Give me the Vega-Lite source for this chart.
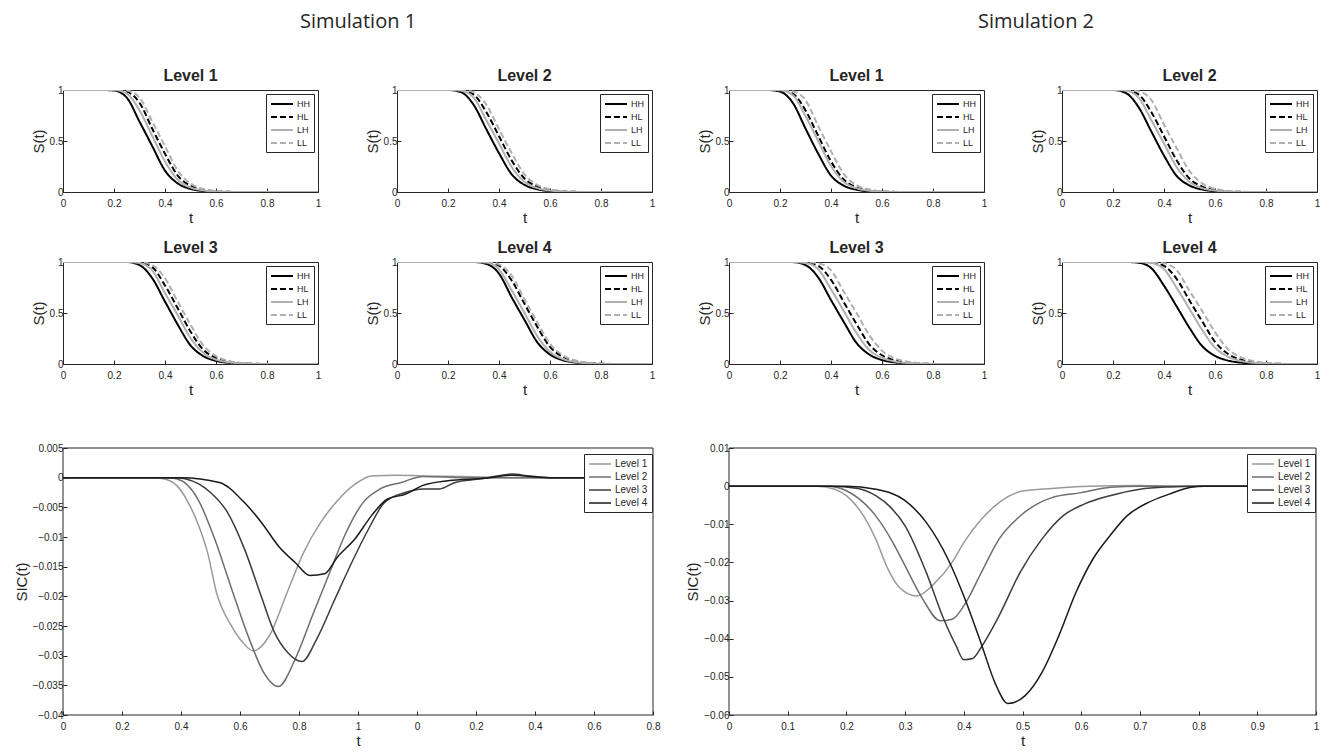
{
"$schema":"https://vega.github.io/schema/vega-lite/v6.json",
"background":"white",
"padding":{"left":14,"top":11,"right":2,"bottom":2},
"config":{
 "font":"Liberation Sans",
 "view":{"stroke":"#262626","strokeWidth":1},
 "axis":{"grid":false,"domain":false,"tickSize":-4,"tickColor":"#262626","labelFont":"Liberation Sans","labelFontSize":10,"labelColor":"#262626","labelPadding":4,"labelOverlap":false,"labelFlush":false,"titleFont":"Liberation Sans","titleFontWeight":"normal","titleFontSize":15,"titleColor":"#262626","titlePadding":3},
 "axisX":{"labelPadding":10,"titlePadding":2},
 "title":{"font":"Liberation Sans","fontSize":16,"fontWeight":"bold","color":"#262626","offset":1},
 "legend":{"orient":"top-right","offset":4,"padding":4,"strokeColor":"#262626","fillColor":"white","labelFont":"Liberation Sans","labelFontSize":9,"labelColor":"#262626","rowPadding":2,"symbolType":"M-1,0H3.4","symbolSize":100,"labelOffset":15,"cornerRadius":0}
},
"datasets":{
"surv":[
{"s":1,"l":1,"t":0,"HH":1,"HL":1,"LH":1,"LL":1},
{"s":1,"l":1,"t":0.15,"HH":1,"HL":1,"LH":1,"LL":1},
{"s":1,"l":1,"t":0.2,"HH":0.995,"HL":1,"LH":1,"LL":1},
{"s":1,"l":1,"t":0.25,"HH":0.925,"HL":0.984,"LH":0.965,"LL":0.995},
{"s":1,"l":1,"t":0.3,"HH":0.69,"HL":0.875,"LH":0.8,"LL":0.925},
{"s":1,"l":1,"t":0.35,"HH":0.45,"HL":0.62,"LH":0.55,"LL":0.69},
{"s":1,"l":1,"t":0.4,"HH":0.21,"HL":0.375,"LH":0.3,"LL":0.45},
{"s":1,"l":1,"t":0.45,"HH":0.084,"HL":0.161,"LH":0.12,"LL":0.21},
{"s":1,"l":1,"t":0.5,"HH":0.03,"HL":0.062,"LH":0.045,"LL":0.084},
{"s":1,"l":1,"t":0.55,"HH":0.0095,"HL":0.0225,"LH":0.016,"LL":0.03},
{"s":1,"l":1,"t":0.6,"HH":0.002,"HL":0.0063,"LH":0.004,"LL":0.0095},
{"s":1,"l":1,"t":0.65,"HH":0,"HL":0.0015,"LH":0.001,"LL":0.0024},
{"s":1,"l":1,"t":0.7,"HH":0,"HL":0,"LH":0,"LL":0},
{"s":1,"l":1,"t":1,"HH":0,"HL":0,"LH":0,"LL":0},
{"s":1,"l":2,"t":0,"HH":1,"HL":1,"LH":1,"LL":1},
{"s":1,"l":2,"t":0.2,"HH":1,"HL":1,"LH":1,"LL":1},
{"s":1,"l":2,"t":0.25,"HH":0.98,"HL":0.998,"LH":0.994,"LL":1},
{"s":1,"l":2,"t":0.3,"HH":0.857,"HL":0.957,"LH":0.926,"LL":0.979},
{"s":1,"l":2,"t":0.35,"HH":0.617,"HL":0.784,"LH":0.706,"LL":0.857},
{"s":1,"l":2,"t":0.4,"HH":0.381,"HL":0.547,"LH":0.476,"LL":0.617},
{"s":1,"l":2,"t":0.45,"HH":0.173,"HL":0.309,"LH":0.244,"LL":0.381},
{"s":1,"l":2,"t":0.5,"HH":0.0695,"HL":0.132,"LH":0.1,"LL":0.173},
{"s":1,"l":2,"t":0.55,"HH":0.0267,"HL":0.053,"LH":0.039,"LL":0.0695},
{"s":1,"l":2,"t":0.6,"HH":0.0085,"HL":0.0196,"LH":0.014,"LL":0.0267},
{"s":1,"l":2,"t":0.65,"HH":0.0024,"HL":0.006,"LH":0.004,"LL":0.0085},
{"s":1,"l":2,"t":0.7,"HH":0,"HL":0.0014,"LH":0.0005,"LL":0.0024},
{"s":1,"l":2,"t":0.75,"HH":0,"HL":0,"LH":0,"LL":0},
{"s":1,"l":2,"t":1,"HH":0,"HL":0,"LH":0,"LL":0},
{"s":1,"l":3,"t":0,"HH":1,"HL":1,"LH":1,"LL":1},
{"s":1,"l":3,"t":0.25,"HH":1,"HL":1,"LH":1,"LL":1},
{"s":1,"l":3,"t":0.3,"HH":0.97,"HL":0.996,"LH":0.989,"LL":1},
{"s":1,"l":3,"t":0.35,"HH":0.841,"HL":0.95,"LH":0.916,"LL":0.97},
{"s":1,"l":3,"t":0.4,"HH":0.612,"HL":0.77,"LH":0.694,"LL":0.841},
{"s":1,"l":3,"t":0.45,"HH":0.386,"HL":0.546,"LH":0.478,"LL":0.612},
{"s":1,"l":3,"t":0.5,"HH":0.183,"HL":0.318,"LH":0.255,"LL":0.386},
{"s":1,"l":3,"t":0.55,"HH":0.078,"HL":0.141,"LH":0.11,"LL":0.183},
{"s":1,"l":3,"t":0.6,"HH":0.031,"HL":0.06,"LH":0.044,"LL":0.078},
{"s":1,"l":3,"t":0.65,"HH":0.011,"HL":0.024,"LH":0.017,"LL":0.031},
{"s":1,"l":3,"t":0.7,"HH":0.003,"HL":0.0075,"LH":0.005,"LL":0.011},
{"s":1,"l":3,"t":0.75,"HH":0.0003,"HL":0.002,"LH":0.001,"LL":0.003},
{"s":1,"l":3,"t":0.8,"HH":0,"HL":0,"LH":0,"LL":0.0003},
{"s":1,"l":3,"t":0.85,"HH":0,"HL":0,"LH":0,"LL":0},
{"s":1,"l":3,"t":1,"HH":0,"HL":0,"LH":0,"LL":0},
{"s":1,"l":4,"t":0,"HH":1,"HL":1,"LH":1,"LL":1},
{"s":1,"l":4,"t":0.3,"HH":1,"HL":1,"LH":1,"LL":1},
{"s":1,"l":4,"t":0.35,"HH":0.982,"HL":0.999,"LH":0.994,"LL":1},
{"s":1,"l":4,"t":0.4,"HH":0.886,"HL":0.964,"LH":0.927,"LL":0.977},
{"s":1,"l":4,"t":0.45,"HH":0.653,"HL":0.818,"LH":0.72,"LL":0.864},
{"s":1,"l":4,"t":0.5,"HH":0.432,"HL":0.59,"LH":0.5,"LL":0.633},
{"s":1,"l":4,"t":0.55,"HH":0.214,"HL":0.365,"LH":0.275,"LL":0.41},
{"s":1,"l":4,"t":0.6,"HH":0.093,"HL":0.168,"LH":0.12,"LL":0.198},
{"s":1,"l":4,"t":0.65,"HH":0.0375,"HL":0.071,"LH":0.049,"LL":0.086},
{"s":1,"l":4,"t":0.7,"HH":0.014,"HL":0.028,"LH":0.019,"LL":0.034},
{"s":1,"l":4,"t":0.75,"HH":0.004,"HL":0.0095,"LH":0.006,"LL":0.012},
{"s":1,"l":4,"t":0.8,"HH":0.0007,"HL":0.0025,"LH":0.0015,"LL":0.0035},
{"s":1,"l":4,"t":0.85,"HH":0,"HL":0,"LH":0,"LL":0.0005},
{"s":1,"l":4,"t":0.9,"HH":0,"HL":0,"LH":0,"LL":0},
{"s":1,"l":4,"t":1,"HH":0,"HL":0,"LH":0,"LL":0},
{"s":2,"l":1,"t":0,"HH":1,"HL":1,"LH":1,"LL":1},
{"s":2,"l":1,"t":0.15,"HH":1,"HL":1,"LH":1,"LL":1},
{"s":2,"l":1,"t":0.2,"HH":0.984,"HL":1,"LH":0.998,"LL":1},
{"s":2,"l":1,"t":0.25,"HH":0.875,"HL":0.965,"LH":0.95,"LL":0.9875},
{"s":2,"l":1,"t":0.3,"HH":0.6225,"HL":0.8,"LH":0.745,"LL":0.9},
{"s":2,"l":1,"t":0.35,"HH":0.375,"HL":0.55,"LH":0.5,"LL":0.645},
{"s":2,"l":1,"t":0.4,"HH":0.161,"HL":0.3,"LH":0.255,"LL":0.4},
{"s":2,"l":1,"t":0.45,"HH":0.062,"HL":0.1225,"LH":0.1,"LL":0.1775},
{"s":2,"l":1,"t":0.5,"HH":0.0225,"HL":0.045,"LH":0.0375,"LL":0.068},
{"s":2,"l":1,"t":0.55,"HH":0.0063,"HL":0.016,"LH":0.012,"LL":0.025},
{"s":2,"l":1,"t":0.6,"HH":0.0015,"HL":0.004,"LH":0.003,"LL":0.007},
{"s":2,"l":1,"t":0.65,"HH":0,"HL":0.001,"LH":0,"LL":0.002},
{"s":2,"l":1,"t":0.7,"HH":0,"HL":0,"LH":0,"LL":0},
{"s":2,"l":1,"t":1,"HH":0,"HL":0,"LH":0,"LL":0},
{"s":2,"l":2,"t":0,"HH":1,"HL":1,"LH":1,"LL":1},
{"s":2,"l":2,"t":0.2,"HH":1,"HL":1,"LH":1,"LL":1},
{"s":2,"l":2,"t":0.25,"HH":0.971,"HL":0.998,"LH":0.994,"LL":1},
{"s":2,"l":2,"t":0.3,"HH":0.833,"HL":0.957,"LH":0.926,"LL":0.987},
{"s":2,"l":2,"t":0.35,"HH":0.595,"HL":0.784,"LH":0.706,"LL":0.903},
{"s":2,"l":2,"t":0.4,"HH":0.357,"HL":0.547,"LH":0.476,"LL":0.66},
{"s":2,"l":2,"t":0.45,"HH":0.157,"HL":0.309,"LH":0.244,"LL":0.429},
{"s":2,"l":2,"t":0.5,"HH":0.064,"HL":0.132,"LH":0.1,"LL":0.205},
{"s":2,"l":2,"t":0.55,"HH":0.0243,"HL":0.053,"LH":0.039,"LL":0.085},
{"s":2,"l":2,"t":0.6,"HH":0.0073,"HL":0.0196,"LH":0.014,"LL":0.032},
{"s":2,"l":2,"t":0.65,"HH":0.002,"HL":0.006,"LH":0.004,"LL":0.011},
{"s":2,"l":2,"t":0.7,"HH":0,"HL":0.0014,"LH":0.0005,"LL":0.003},
{"s":2,"l":2,"t":0.75,"HH":0,"HL":0,"LH":0,"LL":0},
{"s":2,"l":2,"t":1,"HH":0,"HL":0,"LH":0,"LL":0},
{"s":2,"l":3,"t":0,"HH":1,"HL":1,"LH":1,"LL":1},
{"s":2,"l":3,"t":0.2,"HH":1,"HL":1,"LH":1,"LL":1},
{"s":2,"l":3,"t":0.25,"HH":0.999,"HL":1,"LH":1,"LL":1},
{"s":2,"l":3,"t":0.3,"HH":0.97,"HL":0.998,"LH":0.99,"LL":1},
{"s":2,"l":3,"t":0.35,"HH":0.848,"HL":0.963,"LH":0.928,"LL":0.987},
{"s":2,"l":3,"t":0.4,"HH":0.627,"HL":0.826,"LH":0.733,"LL":0.918},
{"s":2,"l":3,"t":0.45,"HH":0.413,"HL":0.608,"LH":0.52,"LL":0.709},
{"s":2,"l":3,"t":0.5,"HH":0.207,"HL":0.392,"LH":0.304,"LL":0.5},
{"s":2,"l":3,"t":0.55,"HH":0.093,"HL":0.193,"LH":0.137,"LL":0.284},
{"s":2,"l":3,"t":0.6,"HH":0.039,"HL":0.086,"LH":0.061,"LL":0.129},
{"s":2,"l":3,"t":0.65,"HH":0.0155,"HL":0.036,"LH":0.025,"LL":0.056},
{"s":2,"l":3,"t":0.7,"HH":0.0055,"HL":0.014,"LH":0.0087,"LL":0.023},
{"s":2,"l":3,"t":0.75,"HH":0.0013,"HL":0.0045,"LH":0.0025,"LL":0.0076},
{"s":2,"l":3,"t":0.8,"HH":0,"HL":0.001,"LH":0,"LL":0.0023},
{"s":2,"l":3,"t":0.85,"HH":0,"HL":0,"LH":0,"LL":0},
{"s":2,"l":3,"t":1,"HH":0,"HL":0,"LH":0,"LL":0},
{"s":2,"l":4,"t":0,"HH":1,"HL":1,"LH":1,"LL":1},
{"s":2,"l":4,"t":0.25,"HH":1,"HL":1,"LH":1,"LL":1},
{"s":2,"l":4,"t":0.3,"HH":0.993,"HL":1,"LH":1,"LL":1},
{"s":2,"l":4,"t":0.35,"HH":0.94,"HL":0.998,"LH":0.99,"LL":1},
{"s":2,"l":4,"t":0.4,"HH":0.768,"HL":0.962,"LH":0.929,"LL":0.987},
{"s":2,"l":4,"t":0.45,"HH":0.563,"HL":0.833,"LH":0.745,"LL":0.919},
{"s":2,"l":4,"t":0.5,"HH":0.354,"HL":0.6225,"LH":0.54,"LL":0.716},
{"s":2,"l":4,"t":0.55,"HH":0.175,"HL":0.417,"LH":0.333,"LL":0.52},
{"s":2,"l":4,"t":0.6,"HH":0.08,"HL":0.218,"LH":0.161,"LL":0.3125},
{"s":2,"l":4,"t":0.65,"HH":0.034,"HL":0.1,"LH":0.073,"LL":0.148},
{"s":2,"l":4,"t":0.7,"HH":0.014,"HL":0.044,"LH":0.031,"LL":0.067},
{"s":2,"l":4,"t":0.75,"HH":0.0045,"HL":0.018,"LH":0.012,"LL":0.029},
{"s":2,"l":4,"t":0.8,"HH":0.0013,"HL":0.0063,"LH":0.0037,"LL":0.011},
{"s":2,"l":4,"t":0.85,"HH":0,"HL":0.002,"LH":0.001,"LL":0.0035},
{"s":2,"l":4,"t":0.9,"HH":0,"HL":0,"LH":0,"LL":0.0008},
{"s":2,"l":4,"t":0.95,"HH":0,"HL":0,"LH":0,"LL":0},
{"s":2,"l":4,"t":1,"HH":0,"HL":0,"LH":0,"LL":0}
],
"sic":[
{"s":1,"lv":"Level 1","t":0,"v":0},{"s":1,"lv":"Level 1","t":0.3,"v":0},{"s":1,"lv":"Level 1","t":0.34,"v":-0.0002},{"s":1,"lv":"Level 1","t":0.385,"v":-0.0013},{"s":1,"lv":"Level 1","t":0.43,"v":-0.0047},{"s":1,"lv":"Level 1","t":0.46,"v":-0.0081},{"s":1,"lv":"Level 1","t":0.49,"v":-0.0126},{"s":1,"lv":"Level 1","t":0.52,"v":-0.0193},{"s":1,"lv":"Level 1","t":0.57,"v":-0.0249},{"s":1,"lv":"Level 1","t":0.61,"v":-0.0278},{"s":1,"lv":"Level 1","t":0.645,"v":-0.0292},{"s":1,"lv":"Level 1","t":0.7,"v":-0.0266},{"s":1,"lv":"Level 1","t":0.76,"v":-0.0193},{"s":1,"lv":"Level 1","t":0.816,"v":-0.0126},{"s":1,"lv":"Level 1","t":0.874,"v":-0.0075},{"s":1,"lv":"Level 1","t":0.93,"v":-0.0039},{"s":1,"lv":"Level 1","t":0.99,"v":-0.0011},{"s":1,"lv":"Level 1","t":1.046,"v":0.0003},{"s":1,"lv":"Level 1","t":1.13,"v":0.0004},{"s":1,"lv":"Level 1","t":1.22,"v":0.0003},{"s":1,"lv":"Level 1","t":1.36,"v":0.0002},{"s":1,"lv":"Level 1","t":1.5,"v":0},{"s":1,"lv":"Level 1","t":2,"v":0},
{"s":1,"lv":"Level 2","t":0,"v":0},{"s":1,"lv":"Level 2","t":0.35,"v":0},{"s":1,"lv":"Level 2","t":0.385,"v":-0.0002},{"s":1,"lv":"Level 2","t":0.457,"v":-0.0036},{"s":1,"lv":"Level 2","t":0.514,"v":-0.0103},{"s":1,"lv":"Level 2","t":0.572,"v":-0.0188},{"s":1,"lv":"Level 2","t":0.63,"v":-0.027},{"s":1,"lv":"Level 2","t":0.68,"v":-0.0328},{"s":1,"lv":"Level 2","t":0.73,"v":-0.0352},{"s":1,"lv":"Level 2","t":0.787,"v":-0.0306},{"s":1,"lv":"Level 2","t":0.845,"v":-0.0233},{"s":1,"lv":"Level 2","t":0.9,"v":-0.0165},{"s":1,"lv":"Level 2","t":0.96,"v":-0.0092},{"s":1,"lv":"Level 2","t":1.017,"v":-0.0042},{"s":1,"lv":"Level 2","t":1.075,"v":-0.0019},{"s":1,"lv":"Level 2","t":1.147,"v":-0.0008},{"s":1,"lv":"Level 2","t":1.22,"v":0.0002},{"s":1,"lv":"Level 2","t":1.36,"v":0},{"s":1,"lv":"Level 2","t":2,"v":0},
{"s":1,"lv":"Level 3","t":0,"v":0},{"s":1,"lv":"Level 3","t":0.38,"v":0},{"s":1,"lv":"Level 3","t":0.414,"v":-0.0002},{"s":1,"lv":"Level 3","t":0.5,"v":-0.0025},{"s":1,"lv":"Level 3","t":0.557,"v":-0.0058},{"s":1,"lv":"Level 3","t":0.615,"v":-0.012},{"s":1,"lv":"Level 3","t":0.672,"v":-0.02},{"s":1,"lv":"Level 3","t":0.716,"v":-0.026},{"s":1,"lv":"Level 3","t":0.76,"v":-0.0294},{"s":1,"lv":"Level 3","t":0.81,"v":-0.031},{"s":1,"lv":"Level 3","t":0.86,"v":-0.0272},{"s":1,"lv":"Level 3","t":0.917,"v":-0.021},{"s":1,"lv":"Level 3","t":0.974,"v":-0.0148},{"s":1,"lv":"Level 3","t":1.03,"v":-0.0092},{"s":1,"lv":"Level 3","t":1.09,"v":-0.0042},{"s":1,"lv":"Level 3","t":1.16,"v":-0.0025},{"s":1,"lv":"Level 3","t":1.22,"v":-0.0019},{"s":1,"lv":"Level 3","t":1.276,"v":-0.0019},{"s":1,"lv":"Level 3","t":1.33,"v":-0.0008},{"s":1,"lv":"Level 3","t":1.43,"v":-0.0001},{"s":1,"lv":"Level 3","t":1.52,"v":0.0006},{"s":1,"lv":"Level 3","t":1.58,"v":0.0003},{"s":1,"lv":"Level 3","t":1.65,"v":0},{"s":1,"lv":"Level 3","t":2,"v":0},
{"s":1,"lv":"Level 4","t":0,"v":0},{"s":1,"lv":"Level 4","t":0.4,"v":0},{"s":1,"lv":"Level 4","t":0.53,"v":-0.0008},{"s":1,"lv":"Level 4","t":0.615,"v":-0.0042},{"s":1,"lv":"Level 4","t":0.672,"v":-0.0075},{"s":1,"lv":"Level 4","t":0.73,"v":-0.0115},{"s":1,"lv":"Level 4","t":0.787,"v":-0.0143},{"s":1,"lv":"Level 4","t":0.837,"v":-0.0165},{"s":1,"lv":"Level 4","t":0.887,"v":-0.0162},{"s":1,"lv":"Level 4","t":0.93,"v":-0.0134},{"s":1,"lv":"Level 4","t":0.99,"v":-0.0103},{"s":1,"lv":"Level 4","t":1.046,"v":-0.0064},{"s":1,"lv":"Level 4","t":1.1,"v":-0.0036},{"s":1,"lv":"Level 4","t":1.16,"v":-0.0028},{"s":1,"lv":"Level 4","t":1.22,"v":-0.0013},{"s":1,"lv":"Level 4","t":1.305,"v":-0.0005},{"s":1,"lv":"Level 4","t":1.43,"v":-0.0001},{"s":1,"lv":"Level 4","t":1.52,"v":0.0004},{"s":1,"lv":"Level 4","t":1.65,"v":0},{"s":1,"lv":"Level 4","t":2,"v":0},
{"s":2,"lv":"Level 1","t":0,"v":0},{"s":2,"lv":"Level 1","t":0.15,"v":0},{"s":2,"lv":"Level 1","t":0.18,"v":-0.0008},{"s":2,"lv":"Level 1","t":0.2,"v":-0.0025},{"s":2,"lv":"Level 1","t":0.23,"v":-0.008},{"s":2,"lv":"Level 1","t":0.25,"v":-0.0139},{"s":2,"lv":"Level 1","t":0.27,"v":-0.0215},{"s":2,"lv":"Level 1","t":0.29,"v":-0.0265},{"s":2,"lv":"Level 1","t":0.32,"v":-0.0288},{"s":2,"lv":"Level 1","t":0.35,"v":-0.0255},{"s":2,"lv":"Level 1","t":0.38,"v":-0.02},{"s":2,"lv":"Level 1","t":0.4,"v":-0.0148},{"s":2,"lv":"Level 1","t":0.43,"v":-0.0087},{"s":2,"lv":"Level 1","t":0.46,"v":-0.0043},{"s":2,"lv":"Level 1","t":0.5,"v":-0.0013},{"s":2,"lv":"Level 1","t":0.55,"v":-0.0006},{"s":2,"lv":"Level 1","t":0.6,"v":-0.0001},{"s":2,"lv":"Level 1","t":0.7,"v":0.0002},{"s":2,"lv":"Level 1","t":0.75,"v":0},{"s":2,"lv":"Level 1","t":1,"v":0},
{"s":2,"lv":"Level 2","t":0,"v":0},{"s":2,"lv":"Level 2","t":0.17,"v":0},{"s":2,"lv":"Level 2","t":0.2,"v":-0.0012},{"s":2,"lv":"Level 2","t":0.25,"v":-0.0078},{"s":2,"lv":"Level 2","t":0.28,"v":-0.015},{"s":2,"lv":"Level 2","t":0.3,"v":-0.0209},{"s":2,"lv":"Level 2","t":0.33,"v":-0.0296},{"s":2,"lv":"Level 2","t":0.36,"v":-0.0353},{"s":2,"lv":"Level 2","t":0.38,"v":-0.0349},{"s":2,"lv":"Level 2","t":0.4,"v":-0.0314},{"s":2,"lv":"Level 2","t":0.43,"v":-0.0226},{"s":2,"lv":"Level 2","t":0.46,"v":-0.0139},{"s":2,"lv":"Level 2","t":0.5,"v":-0.0073},{"s":2,"lv":"Level 2","t":0.55,"v":-0.003},{"s":2,"lv":"Level 2","t":0.6,"v":-0.0017},{"s":2,"lv":"Level 2","t":0.65,"v":-0.0003},{"s":2,"lv":"Level 2","t":0.7,"v":0},{"s":2,"lv":"Level 2","t":1,"v":0},
{"s":2,"lv":"Level 3","t":0,"v":0},{"s":2,"lv":"Level 3","t":0.17,"v":0},{"s":2,"lv":"Level 3","t":0.22,"v":-0.0006},{"s":2,"lv":"Level 3","t":0.25,"v":-0.0025},{"s":2,"lv":"Level 3","t":0.275,"v":-0.0055},{"s":2,"lv":"Level 3","t":0.3,"v":-0.0104},{"s":2,"lv":"Level 3","t":0.336,"v":-0.0226},{"s":2,"lv":"Level 3","t":0.366,"v":-0.0349},{"s":2,"lv":"Level 3","t":0.387,"v":-0.0419},{"s":2,"lv":"Level 3","t":0.4,"v":-0.0455},{"s":2,"lv":"Level 3","t":0.415,"v":-0.0452},{"s":2,"lv":"Level 3","t":0.431,"v":-0.0419},{"s":2,"lv":"Level 3","t":0.46,"v":-0.034},{"s":2,"lv":"Level 3","t":0.496,"v":-0.0226},{"s":2,"lv":"Level 3","t":0.533,"v":-0.0139},{"s":2,"lv":"Level 3","t":0.569,"v":-0.0078},{"s":2,"lv":"Level 3","t":0.605,"v":-0.0047},{"s":2,"lv":"Level 3","t":0.649,"v":-0.0025},{"s":2,"lv":"Level 3","t":0.7,"v":-0.0008},{"s":2,"lv":"Level 3","t":0.75,"v":-0.0002},{"s":2,"lv":"Level 3","t":0.8,"v":0},{"s":2,"lv":"Level 3","t":1,"v":0},
{"s":2,"lv":"Level 4","t":0,"v":0},{"s":2,"lv":"Level 4","t":0.2,"v":0},{"s":2,"lv":"Level 4","t":0.25,"v":-0.0008},{"s":2,"lv":"Level 4","t":0.3,"v":-0.0038},{"s":2,"lv":"Level 4","t":0.336,"v":-0.0095},{"s":2,"lv":"Level 4","t":0.373,"v":-0.0191},{"s":2,"lv":"Level 4","t":0.402,"v":-0.0296},{"s":2,"lv":"Level 4","t":0.431,"v":-0.0419},{"s":2,"lv":"Level 4","t":0.453,"v":-0.0515},{"s":2,"lv":"Level 4","t":0.475,"v":-0.057},{"s":2,"lv":"Level 4","t":0.504,"v":-0.055},{"s":2,"lv":"Level 4","t":0.533,"v":-0.0489},{"s":2,"lv":"Level 4","t":0.562,"v":-0.0392},{"s":2,"lv":"Level 4","t":0.591,"v":-0.0279},{"s":2,"lv":"Level 4","t":0.62,"v":-0.0191},{"s":2,"lv":"Level 4","t":0.649,"v":-0.013},{"s":2,"lv":"Level 4","t":0.678,"v":-0.0078},{"s":2,"lv":"Level 4","t":0.714,"v":-0.0043},{"s":2,"lv":"Level 4","t":0.75,"v":-0.0021},{"s":2,"lv":"Level 4","t":0.787,"v":-0.0003},{"s":2,"lv":"Level 4","t":0.81,"v":0},{"s":2,"lv":"Level 4","t":1,"v":0}
]
},
"spacing":25,
"resolve":{"scale":{"color":"independent","strokeDash":"independent","strokeWidth":"independent"}},
"hconcat":[
{"title":{"text":"Simulation 1","font":"Open Sans","fontSize":20,"fontWeight":"normal","anchor":"middle","offset":36,"dx":21},
 "columns":2,"bounds":"flush","align":"each","spacing":{"row":70,"column":79},
 "resolve":{"scale":{"color":"independent","strokeDash":"independent","strokeWidth":"independent"}},
 "concat":[
   {"title":"Level 1","width":255,"height":102,"data":{"name":"surv"},"transform":[{"filter":"datum.s==1 && datum.l==1"},{"fold":["HH","HL","LH","LL"],"as":["c","y"]}],"mark":{"type":"line","interpolate":"monotone","clip":true},
    "encoding":{"x":{"field":"t","type":"quantitative","scale":{"domain":[0,1],"nice":false},"axis":{"values":[0,0.2,0.4,0.6,0.8,1],"format":"~g","title":"t"}},"y":{"field":"y","type":"quantitative","scale":{"domain":[0,1],"nice":false},"axis":{"values":[0,0.5,1],"format":"~g","title":"S(t)"}},"color":{"field":"c","type":"nominal","title":null,"scale":{"domain":["HH","HL","LH","LL"],"range":["#000000","#000000","#b0b0b0","#b0b0b0"]}},"strokeDash":{"field":"c","type":"nominal","title":null,"scale":{"domain":["HH","HL","LH","LL"],"range":[[1,0],[6,3],[1,0],[6,3]]}},"strokeWidth":{"field":"c","type":"nominal","title":null,"scale":{"domain":["HH","HL","LH","LL"],"range":[2,2,1.2,1.2]}}}},
   {"title":"Level 2","width":255,"height":102,"data":{"name":"surv"},"transform":[{"filter":"datum.s==1 && datum.l==2"},{"fold":["HH","HL","LH","LL"],"as":["c","y"]}],"mark":{"type":"line","interpolate":"monotone","clip":true},
    "encoding":{"x":{"field":"t","type":"quantitative","scale":{"domain":[0,1],"nice":false},"axis":{"values":[0,0.2,0.4,0.6,0.8,1],"format":"~g","title":"t"}},"y":{"field":"y","type":"quantitative","scale":{"domain":[0,1],"nice":false},"axis":{"values":[0,0.5,1],"format":"~g","title":"S(t)"}},"color":{"field":"c","type":"nominal","title":null,"scale":{"domain":["HH","HL","LH","LL"],"range":["#000000","#000000","#b0b0b0","#b0b0b0"]}},"strokeDash":{"field":"c","type":"nominal","title":null,"scale":{"domain":["HH","HL","LH","LL"],"range":[[1,0],[6,3],[1,0],[6,3]]}},"strokeWidth":{"field":"c","type":"nominal","title":null,"scale":{"domain":["HH","HL","LH","LL"],"range":[2,2,1.2,1.2]}}}},
   {"title":"Level 3","width":255,"height":102,"data":{"name":"surv"},"transform":[{"filter":"datum.s==1 && datum.l==3"},{"fold":["HH","HL","LH","LL"],"as":["c","y"]}],"mark":{"type":"line","interpolate":"monotone","clip":true},
    "encoding":{"x":{"field":"t","type":"quantitative","scale":{"domain":[0,1],"nice":false},"axis":{"values":[0,0.2,0.4,0.6,0.8,1],"format":"~g","title":"t"}},"y":{"field":"y","type":"quantitative","scale":{"domain":[0,1],"nice":false},"axis":{"values":[0,0.5,1],"format":"~g","title":"S(t)"}},"color":{"field":"c","type":"nominal","title":null,"scale":{"domain":["HH","HL","LH","LL"],"range":["#000000","#000000","#b0b0b0","#b0b0b0"]}},"strokeDash":{"field":"c","type":"nominal","title":null,"scale":{"domain":["HH","HL","LH","LL"],"range":[[1,0],[6,3],[1,0],[6,3]]}},"strokeWidth":{"field":"c","type":"nominal","title":null,"scale":{"domain":["HH","HL","LH","LL"],"range":[2,2,1.2,1.2]}}}},
   {"title":"Level 4","width":255,"height":102,"data":{"name":"surv"},"transform":[{"filter":"datum.s==1 && datum.l==4"},{"fold":["HH","HL","LH","LL"],"as":["c","y"]}],"mark":{"type":"line","interpolate":"monotone","clip":true},
    "encoding":{"x":{"field":"t","type":"quantitative","scale":{"domain":[0,1],"nice":false},"axis":{"values":[0,0.2,0.4,0.6,0.8,1],"format":"~g","title":"t"}},"y":{"field":"y","type":"quantitative","scale":{"domain":[0,1],"nice":false},"axis":{"values":[0,0.5,1],"format":"~g","title":"S(t)"}},"color":{"field":"c","type":"nominal","title":null,"scale":{"domain":["HH","HL","LH","LL"],"range":["#000000","#000000","#b0b0b0","#b0b0b0"]}},"strokeDash":{"field":"c","type":"nominal","title":null,"scale":{"domain":["HH","HL","LH","LL"],"range":[[1,0],[6,3],[1,0],[6,3]]}},"strokeWidth":{"field":"c","type":"nominal","title":null,"scale":{"domain":["HH","HL","LH","LL"],"range":[2,2,1.2,1.2]}}}},
   {"width":255,"height":281,"view":{"stroke":null},
    "layer":[
     {"data":{"name":"sic"},"transform":[{"filter":"datum.s==1"}],"mark":{"type":"line","interpolate":"monotone","strokeWidth":1.5,"clip":false},
      "encoding":{"x":{"field":"t","type":"quantitative","scale":{"domain":[0,2],"nice":false,"range":[0,590]},"axis":{"values":[0,0.2,0.4,0.6,0.8,1,1.2,1.4,1.6,1.8,2],"tickCount":20,"labelExpr":"datum.value <= 1.0001 ? format(datum.value,'~g') : format(datum.value-1.2,'.1~f')","title":"t"}},"y":{"field":"v","type":"quantitative","scale":{"domain":[-0.04,0.005],"nice":false,"range":[281,14]},"axis":{"values":[-0.04,-0.035,-0.03,-0.025,-0.02,-0.015,-0.01,-0.005,0,0.005],"tickCount":20,"format":"~g","title":"SIC(t)"}},"color":{"field":"lv","type":"nominal","title":null,"legend":{"orient":"none","legendX":521,"legendY":20,"symbolStrokeWidth":1.5,"labelFontSize":10,"padding":4},"scale":{"domain":["Level 1","Level 2","Level 3","Level 4"],"range":["#9a9a9a","#6e6e6e","#3c3c3c","#1a1a1a"]}}}},
     {"data":{"values":[{"x0":0,"x1":2,"y0":-0.04,"y1":0.005}]},"mark":{"type":"rect","filled":false,"stroke":"#262626","strokeWidth":1},
      "encoding":{"x":{"field":"x0","type":"quantitative"},"x2":{"field":"x1"},"y":{"field":"y0","type":"quantitative"},"y2":{"field":"y1"}}}
    ]}
 ]},
{"title":{"text":"Simulation 2","font":"Open Sans","fontSize":20,"fontWeight":"normal","anchor":"middle","offset":36,"dx":33},
 "columns":2,"bounds":"flush","align":"each","spacing":{"row":70,"column":78},
 "resolve":{"scale":{"color":"independent","strokeDash":"independent","strokeWidth":"independent"}},
 "concat":[
   {"title":"Level 1","width":255,"height":102,"data":{"name":"surv"},"transform":[{"filter":"datum.s==2 && datum.l==1"},{"fold":["HH","HL","LH","LL"],"as":["c","y"]}],"mark":{"type":"line","interpolate":"monotone","clip":true},
    "encoding":{"x":{"field":"t","type":"quantitative","scale":{"domain":[0,1],"nice":false},"axis":{"values":[0,0.2,0.4,0.6,0.8,1],"format":"~g","title":"t"}},"y":{"field":"y","type":"quantitative","scale":{"domain":[0,1],"nice":false},"axis":{"values":[0,0.5,1],"format":"~g","title":"S(t)"}},"color":{"field":"c","type":"nominal","title":null,"scale":{"domain":["HH","HL","LH","LL"],"range":["#000000","#000000","#b0b0b0","#b0b0b0"]}},"strokeDash":{"field":"c","type":"nominal","title":null,"scale":{"domain":["HH","HL","LH","LL"],"range":[[1,0],[6,3],[1,0],[6,3]]}},"strokeWidth":{"field":"c","type":"nominal","title":null,"scale":{"domain":["HH","HL","LH","LL"],"range":[2,2,1.2,1.2]}}}},
   {"title":"Level 2","width":255,"height":102,"data":{"name":"surv"},"transform":[{"filter":"datum.s==2 && datum.l==2"},{"fold":["HH","HL","LH","LL"],"as":["c","y"]}],"mark":{"type":"line","interpolate":"monotone","clip":true},
    "encoding":{"x":{"field":"t","type":"quantitative","scale":{"domain":[0,1],"nice":false},"axis":{"values":[0,0.2,0.4,0.6,0.8,1],"format":"~g","title":"t"}},"y":{"field":"y","type":"quantitative","scale":{"domain":[0,1],"nice":false},"axis":{"values":[0,0.5,1],"format":"~g","title":"S(t)"}},"color":{"field":"c","type":"nominal","title":null,"scale":{"domain":["HH","HL","LH","LL"],"range":["#000000","#000000","#b0b0b0","#b0b0b0"]}},"strokeDash":{"field":"c","type":"nominal","title":null,"scale":{"domain":["HH","HL","LH","LL"],"range":[[1,0],[6,3],[1,0],[6,3]]}},"strokeWidth":{"field":"c","type":"nominal","title":null,"scale":{"domain":["HH","HL","LH","LL"],"range":[2,2,1.2,1.2]}}}},
   {"title":"Level 3","width":255,"height":102,"data":{"name":"surv"},"transform":[{"filter":"datum.s==2 && datum.l==3"},{"fold":["HH","HL","LH","LL"],"as":["c","y"]}],"mark":{"type":"line","interpolate":"monotone","clip":true},
    "encoding":{"x":{"field":"t","type":"quantitative","scale":{"domain":[0,1],"nice":false},"axis":{"values":[0,0.2,0.4,0.6,0.8,1],"format":"~g","title":"t"}},"y":{"field":"y","type":"quantitative","scale":{"domain":[0,1],"nice":false},"axis":{"values":[0,0.5,1],"format":"~g","title":"S(t)"}},"color":{"field":"c","type":"nominal","title":null,"scale":{"domain":["HH","HL","LH","LL"],"range":["#000000","#000000","#b0b0b0","#b0b0b0"]}},"strokeDash":{"field":"c","type":"nominal","title":null,"scale":{"domain":["HH","HL","LH","LL"],"range":[[1,0],[6,3],[1,0],[6,3]]}},"strokeWidth":{"field":"c","type":"nominal","title":null,"scale":{"domain":["HH","HL","LH","LL"],"range":[2,2,1.2,1.2]}}}},
   {"title":"Level 4","width":255,"height":102,"data":{"name":"surv"},"transform":[{"filter":"datum.s==2 && datum.l==4"},{"fold":["HH","HL","LH","LL"],"as":["c","y"]}],"mark":{"type":"line","interpolate":"monotone","clip":true},
    "encoding":{"x":{"field":"t","type":"quantitative","scale":{"domain":[0,1],"nice":false},"axis":{"values":[0,0.2,0.4,0.6,0.8,1],"format":"~g","title":"t"}},"y":{"field":"y","type":"quantitative","scale":{"domain":[0,1],"nice":false},"axis":{"values":[0,0.5,1],"format":"~g","title":"S(t)"}},"color":{"field":"c","type":"nominal","title":null,"scale":{"domain":["HH","HL","LH","LL"],"range":["#000000","#000000","#b0b0b0","#b0b0b0"]}},"strokeDash":{"field":"c","type":"nominal","title":null,"scale":{"domain":["HH","HL","LH","LL"],"range":[[1,0],[6,3],[1,0],[6,3]]}},"strokeWidth":{"field":"c","type":"nominal","title":null,"scale":{"domain":["HH","HL","LH","LL"],"range":[2,2,1.2,1.2]}}}},
   {"width":255,"height":281,"view":{"stroke":null},
    "layer":[
     {"data":{"name":"sic"},"transform":[{"filter":"datum.s==2"}],"mark":{"type":"line","interpolate":"monotone","strokeWidth":1.5,"clip":false},
      "encoding":{"x":{"field":"t","type":"quantitative","scale":{"domain":[0,1],"nice":false,"range":[0,587]},"axis":{"values":[0,0.1,0.2,0.3,0.4,0.5,0.6,0.7,0.8,0.9,1],"tickCount":20,"format":"~g","title":"t"}},"y":{"field":"v","type":"quantitative","scale":{"domain":[-0.06,0.01],"nice":false,"range":[281,14]},"axis":{"values":[-0.06,-0.05,-0.04,-0.03,-0.02,-0.01,0,0.01],"tickCount":20,"format":"~g","title":"SIC(t)"}},"color":{"field":"lv","type":"nominal","title":null,"legend":{"orient":"none","legendX":518,"legendY":20,"symbolStrokeWidth":1.5,"labelFontSize":10,"padding":4},"scale":{"domain":["Level 1","Level 2","Level 3","Level 4"],"range":["#9a9a9a","#6e6e6e","#3c3c3c","#1a1a1a"]}}}},
     {"data":{"values":[{"x0":0,"x1":1,"y0":-0.06,"y1":0.01}]},"mark":{"type":"rect","filled":false,"stroke":"#262626","strokeWidth":1},
      "encoding":{"x":{"field":"x0","type":"quantitative"},"x2":{"field":"x1"},"y":{"field":"y0","type":"quantitative"},"y2":{"field":"y1"}}}
    ]}
 ]}
]
}
